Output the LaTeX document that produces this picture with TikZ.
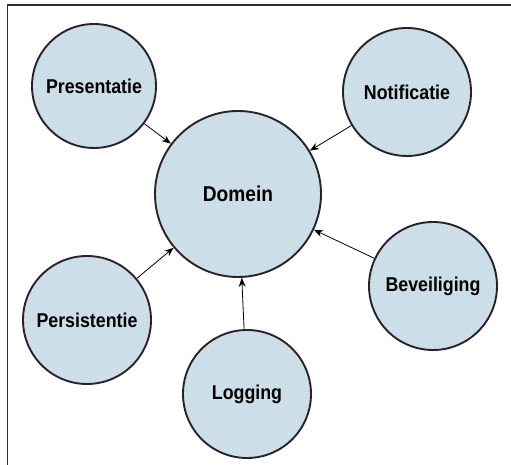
\documentclass[tikz,border=0pt]{standalone}
\usepackage{fontspec}
\setmainfont{Liberation Sans}[FakeStretch=0.89]
\usetikzlibrary{arrows.meta}
\definecolor{cfill}{HTML}{CCDEE8}
\definecolor{cedge}{HTML}{2B2229}
\definecolor{frame}{HTML}{2E2E2E}
\begin{document}
\begin{tikzpicture}[x=1pt,y=1pt,
  sat/.style={circle,draw=cedge,line width=1.9pt,fill=cfill,minimum size=128pt,inner sep=0pt,
    font=\fontsize{20}{22}\selectfont\bfseries},
  core/.style={circle,draw=cedge,line width=1.9pt,fill=cfill,minimum size=166pt,inner sep=0pt,
    font=\fontsize{21.5}{24}\selectfont\bfseries},
  link/.style={-{Stealth[length=9pt,width=7pt]},line width=0.8pt,black}]
\useasboundingbox (0,0) rectangle (511,465);
\draw[frame,line width=1.4pt] (7.5,0) -- (7.5,460) -- (511,460);
\node[core] (dom) at (238,271) {Domein};
\node[sat,minimum size=124pt] (pres) at (94,379) {Presentatie};
\node[sat] (noti) at (407,373) {Notificatie};
\node[sat] (bev) at (433,179) {Beveiliging};
\node[sat] (pers) at (87,145) {Persistentie};
\node[sat] (log) at (247,71) {Logging};
\draw[link] (pres) -- (dom);
\draw[link] (noti) -- (dom);
\draw[link] (bev) -- (dom);
\draw[link] (pers) -- (dom);
\draw[link] (log) -- (dom);
\end{tikzpicture}
\end{document}
